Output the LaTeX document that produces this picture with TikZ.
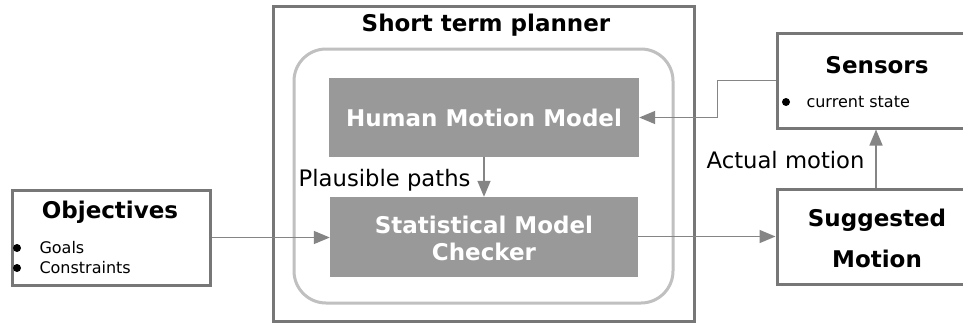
\documentclass[tikz,border=0pt]{standalone}
\usepackage{fontspec}
\setmainfont{DejaVu Sans}
\usetikzlibrary{arrows.meta}
\definecolor{frameC}{HTML}{777777}
\definecolor{roundC}{HTML}{C0C0C0}
\definecolor{blockC}{HTML}{999999}
\definecolor{lineC}{HTML}{858585}
\tikzset{
  big/.style={font=\fontsize{23}{27}\selectfont\bfseries},
  plain/.style={font=\fontsize{22.7}{27}\selectfont},
  small/.style={font=\fontsize{16}{19}\selectfont},
  framebox/.style={draw=frameC, line width=3pt, fill=white, inner sep=0pt},
  block/.style={fill=blockC, inner sep=0pt, text=white, big, align=center},
  flow/.style={draw=lineC, line width=1.5pt, -{Triangle[length=16pt,width=13pt]}},
  dot/.style={fill=black, circle, inner sep=0pt, minimum size=8pt},
}
\begin{document}
\begin{tikzpicture}[x=1pt, y=-1pt]
  \useasboundingbox (0,0) rectangle (963,324);
  \clip (0,0) rectangle (963,324);
  \fill[white] (0,0) rectangle (963,324);

  % outer planner frame and inner rounded group
  \node[framebox, minimum width=421pt, minimum height=315pt] (planner) at (484,164) {};
  \node[big, anchor=center] (plannerT) at (486,25) {Short term planner};
  \node[draw=roundC, line width=3pt, rounded corners=32pt, inner sep=0pt,
        minimum width=379pt, minimum height=254pt] (group) at (483.5,176) {};

  % model blocks
  \node[block, minimum width=310pt, minimum height=79pt] (hmm) at (484,117.5) {Human Motion Model};
  \node[block, minimum width=308pt, minimum height=80pt] (smc) at (484,237) {};
  \node[align=center, text=white, font=\fontsize{23}{27}\selectfont\bfseries]
    (smcT) at (484,238.5) {Statistical Model\\Checker};

  % objectives
  \node[framebox, minimum width=198pt, minimum height=95pt] (obj) at (111,237.5) {};
  \node[big] (objT) at (110,212) {Objectives};
  \node[dot] (b1) at (17,248) {};
  \node[small, anchor=west] (goals) at (36,248) {Goals};
  \node[dot] (b2) at (17,268) {};
  \node[small, anchor=west] (cons) at (36,268) {Constraints};

  % sensors and suggested motion (run off the right edge)
  \node[framebox, minimum width=200pt, minimum height=95pt] (sens) at (877,80.5) {};
  \node[big] (sensT) at (877,65) {Sensors};
  \node[dot] (b3) at (786,102) {};
  \node[small, anchor=west] (state) at (803,102) {current state};

  \node[framebox, minimum width=200pt, minimum height=95pt] (sugg) at (877,236.5) {};
  \node[align=center, font=\fontsize{23}{41}\selectfont\bfseries] (suggT) at (877,238.5)
    {Suggested\\Motion};

  % connectors
  \draw[flow] (obj.east) -- (smc.west |- obj.east);
  \draw[flow] (smc.east |- sugg.west) -- (sugg.west);
  \draw[flow] (hmm.south) -- (smc.north);
  \draw[flow] (sugg.north -| 876,0) -- (sens.south -| 876,0);
  \draw[flow] (sens.west) -- ++(-58,0) |- (hmm.east);

  % connector labels
  \node[plain, anchor=east] (lblPaths) at (474,180) {Plausible paths};
  \node[plain, anchor=east] (lblMotion) at (868,160) {Actual motion};
\end{tikzpicture}
\end{document}
